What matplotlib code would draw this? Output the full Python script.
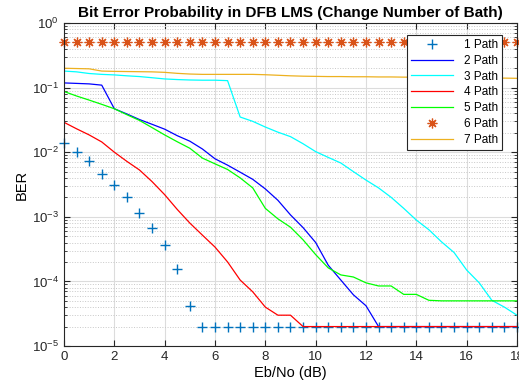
import numpy as np
import matplotlib.pyplot as plt
from matplotlib.ticker import LogLocator, NullFormatter

plt.rcParams['font.family'] = ['Liberation Sans', 'DejaVu Sans']

# Eb/No points, 0.5 dB step
ebno = np.arange(0, 18.5, 0.5)

ber_1 = [0.0139, 0.010, 0.0073, 0.0046, 0.0031, 0.0020, 0.00115, 0.00067,
         0.00036, 0.000155, 4.2e-5] + [2e-5] * 26
ber_2 = [0.118, 0.116, 0.114, 0.109, 0.047, 0.039, 0.032, 0.027, 0.0227,
         0.018, 0.0148, 0.0112, 0.0079, 0.0063, 0.0049, 0.0038, 0.0027,
         0.0018, 0.00107, 0.00068, 0.0004, 0.000178, 0.000105, 6.2e-5,
         4.2e-5, 2e-5] + [2e-5] * 11
ber_3 = [0.18, 0.175, 0.165, 0.16, 0.157, 0.152, 0.148, 0.142, 0.136, 0.133,
         0.131, 0.13, 0.13, 0.128, 0.035, 0.030, 0.0245, 0.0204, 0.0174,
         0.0135, 0.0102, 0.0083, 0.0068, 0.005, 0.0037, 0.0028, 0.002,
         0.00135, 0.00089, 0.00063, 0.00041, 0.00028, 0.00015, 9.5e-5,
         5.1e-5, 4e-5, 3e-5]
ber_4 = [0.029, 0.023, 0.0185, 0.0144, 0.010, 0.0072, 0.0053, 0.0035, 0.0022,
         0.0013, 0.0008, 0.00052, 0.00034, 0.0002, 0.000105, 6.9e-5, 4e-5,
         3e-5, 3e-5, 2e-5] + [2e-5] * 17
ber_5 = [0.087, 0.074, 0.064, 0.055, 0.047, 0.038, 0.031, 0.024, 0.0185,
         0.0145, 0.0115, 0.0081, 0.0066, 0.0054, 0.004, 0.0028, 0.00135,
         0.00093, 0.00069, 0.00044, 0.00026, 0.000162, 0.000126, 0.000117,
         9.5e-5, 8.5e-5, 8.5e-5, 6.3e-5, 6.3e-5, 5.1e-5] + [5e-5] * 7
ber_6 = [0.5] * 37
ber_7 = [0.199, 0.197, 0.195, 0.18, 0.178, 0.177, 0.176, 0.175, 0.172, 0.166,
         0.162, 0.160, 0.160, 0.160, 0.160, 0.160, 0.158, 0.155, 0.152, 0.150,
         0.149, 0.148, 0.148, 0.147, 0.147, 0.146, 0.146, 0.145, 0.145, 0.144,
         0.143, 0.142, 0.142, 0.141, 0.140, 0.140, 0.139]

fig = plt.figure(figsize=(5.19, 3.89), dpi=100)
ax = fig.add_axes([0.1233, 0.1105, 0.8728, 0.8305])

ax.semilogy(ebno, ber_1, '+', color='#0072BD', ms=6.5, mew=1.0,
            label='1 Path', clip_on=False)
ax.semilogy(ebno, ber_2, color='#0000FF', lw=0.9, label='2 Path')
ax.semilogy(ebno, ber_3, color='#00FFFF', lw=0.9, label='3 Path')
ax.semilogy(ebno, ber_4, color='#FF0000', lw=0.9, label='4 Path')
ax.semilogy(ebno, ber_5, color='#00FF00', lw=0.9, label='5 Path')
# MATLAB-like asterisk: 8 arms
ax.semilogy(ebno, ber_6, ls='none', marker=(8, 2, 0), color='#D95319',
            ms=7, mew=0.9, label='6 Path', clip_on=False)
ax.semilogy(ebno, ber_7, color='#EDB120', lw=0.9, label='7 Path')

ax.set_xlim(0, 18)
ax.set_ylim(1e-5, 1)
ax.set_xticks(range(0, 19, 2))
ax.yaxis.set_major_locator(LogLocator(base=10, numticks=10))
ax.yaxis.set_minor_locator(LogLocator(base=10, subs=np.arange(2, 10), numticks=20))
ax.yaxis.set_minor_formatter(NullFormatter())

ax.grid(True, which='major', color='#DCDCDC', lw=0.8)
ax.grid(True, which='minor', axis='y', color='#C8C8C8', ls=':', lw=0.7)
ax.set_axisbelow(True)
ax.tick_params(which='both', direction='in', top=True, right=True,
               labelsize=9.5, colors='#262626')
ax.tick_params(which='major', length=4)
ax.tick_params(which='minor', length=2)
for s in ax.spines.values():
    s.set_color('#262626')
    s.set_linewidth(0.8)

ax.set_title('Bit Error Probability in DFB LMS (Change Number of Bath)',
             fontsize=11, fontweight='bold', pad=4)
ax.set_xlabel('Eb/No (dB)', fontsize=10.5, labelpad=2)
ax.set_ylabel('BER', fontsize=10.5, labelpad=2)

leg = ax.legend(loc='upper right', bbox_to_anchor=(0.967, 0.963),
                borderaxespad=0, fancybox=False, edgecolor='#262626',
                framealpha=1, fontsize=8.5, handlelength=3.6,
                labelspacing=0.32, borderpad=0.35, handletextpad=0.9)
leg.get_frame().set_linewidth(0.8)

fig.savefig('out.png', dpi=100)
